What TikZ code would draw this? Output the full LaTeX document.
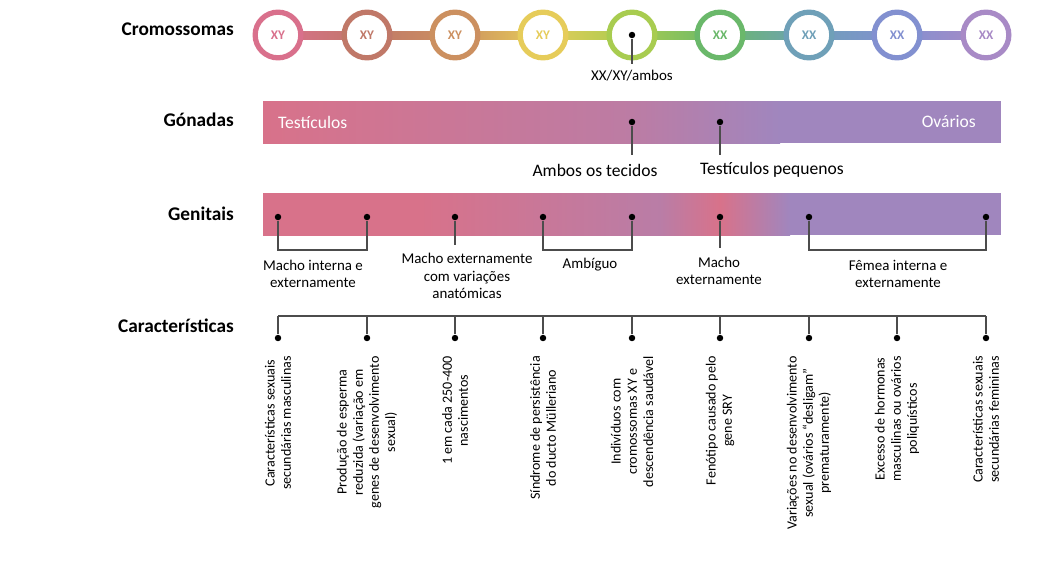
\documentclass[tikz,border=0pt]{standalone}
\usepackage{fontspec}
\setmainfont{Carlito}
\usetikzlibrary{positioning}
\definecolor{cA}{HTML}{D9708C}
\definecolor{cB}{HTML}{C07868}
\definecolor{cC}{HTML}{CC9060}
\definecolor{cD}{HTML}{E6CC5A}
\definecolor{cE}{HTML}{A8CC50}
\definecolor{cF}{HTML}{6AB86A}
\definecolor{cG}{HTML}{6FA0B8}
\definecolor{cH}{HTML}{8290D0}
\definecolor{cI}{HTML}{A88AC6}
\definecolor{pinkbar}{HTML}{D8728A}
\definecolor{purplebar}{HTML}{A086BE}
\begin{document}
\begin{tikzpicture}[x=0.02cm,y=-0.02cm,
  heading/.style={font=\fontsize{11}{13}\selectfont\bfseries,anchor=east},
  label/.style={font=\fontsize{8.5}{10}\selectfont,align=center},
  feature/.style={font=\fontsize{8}{9.2}\selectfont,align=center,rotate=90,anchor=east},
  dot/.style={circle,fill=black,inner sep=1.3pt},
  link/.style={draw=black!70,line width=0.7pt},
  chrom/.style={circle,draw=#1,fill=white,line width=3pt,minimum size=24\pgflinewidth,
    text=#1,font=\fontsize{7.5}{8}\selectfont\bfseries,inner sep=0pt}
]
\useasboundingbox (0,0) rectangle (1038,566);

% headings
\node[heading] (hchrom) at (240,29)  {Cromossomas};
\node[heading] (hgon)   at (240,120) {Gónadas};
\node[heading] (hgen)   at (240,214) {Genitais};
\node[heading] (hcar)   at (240,326) {Características};

% chromosome line
\foreach \a/\b/\ca/\cb in {278/367/cA/cB,367/455/cB/cC,455/543/cC/cD,543/632/cD/cE,
  632/720/cE/cF,720/809/cF/cG,809/897/cG/cH,897/986/cH/cI}
  \shade[left color=\ca,right color=\cb] (\a,31) rectangle (\b,39);
\foreach \n/\x/\c/\t in {c1/278/cA/XY,c2/367/cB/XY,c3/455/cC/XY,c4/543/cD/XY,c5/632/cE/{},
  c6/720/cF/XX,c7/809/cG/XX,c8/897/cH/XX,c9/986/cI/XX}
  \node[chrom=\c,minimum size=26] (\n) at (\x,35) {\t};
\node[dot] (cmid) at (632,35) {};
\node[label] (lchrom) at (632,76) {XX/XY/ambos};
\draw[link] (cmid) -- (lchrom.north);

% gonads bar
\shade[left color=pinkbar,right color=pinkbar!50!purplebar] (263,101) rectangle (632,143);
\shade[left color=pinkbar!50!purplebar,right color=purplebar] (632,101) rectangle (780,143);
\fill[purplebar] (780,101) rectangle (1001,143);
\node[label,text=white,anchor=west,font=\fontsize{10}{12}\selectfont] (testic) at (272,122) {Testículos};
\node[label,text=white,anchor=east,font=\fontsize{10}{12}\selectfont] (ovar) at (982,122) {Ovários};
\node[dot] (g1) at (632,122) {};
\node[dot] (g2) at (720,122) {};
\node[label,font=\fontsize{10}{12}\selectfont] (lamb) at (595,170) {Ambos os tecidos};
\node[label,font=\fontsize{10}{12}\selectfont] (lpeq) at (772,170) {Testículos pequenos};
\draw[link] (g1) -- (632,155);
\draw[link] (g2) -- (720,155);

% genitals bar
\shade[left color=pinkbar,right color=pinkbar] (263,193) rectangle (420,235);
\shade[left color=pinkbar,right color=pinkbar!45!purplebar] (420,193) rectangle (660,235);
\shade[left color=pinkbar!45!purplebar,right color=pinkbar] (660,193) rectangle (720,235);
\shade[left color=pinkbar,right color=purplebar] (720,193) rectangle (790,235);
\fill[purplebar] (790,193) rectangle (1001,235);
\foreach \n/\x in {d1/278,d2/367,d3/455,d4/543,d5/632,d6/720,d7/809,d9/986}
  \node[dot] (\n) at (\x,217) {};
\draw[link] (d1) -- (278,250) -- (367,250) -- (d2);
\draw[link] (d4) -- (543,250) -- (632,250) -- (d5);
\draw[link] (d7) -- (809,250) -- (986,250) -- (d9);
\draw[link] (d3) -- (455,245);
\draw[link] (d6) -- (720,248);
\node[label] (lg1) at (313,274) {Macho interna e\\externamente};
\node[label] (lg2) at (467,276) {Macho externamente\\com variações\\anatómicas};
\node[label] (lg3) at (590,265) {Ambíguo};
\node[label] (lg4) at (719,271) {Macho\\externamente};
\node[label] (lg5) at (898,274) {Fêmea interna e\\externamente};

% characteristics
\draw[link] (278,316) -- (986,316);
\foreach \n/\x/\t in {
  f1/278/{Características sexuais\\secundárias masculinas},
  f2/367/{Produção de esperma\\reduzida (variação em\\genes de desenvolvimento\\sexual)},
  f3/455/{1 em cada 250-400\\nascimentos},
  f4/543/{Síndrome de persistência\\do ducto Mülleriano},
  f5/632/{Indivíduos com\\cromossomas XY e\\descendência saudável},
  f6/720/{Fenótipo causado pelo\\gene SRY},
  f7/809/{Variações no desenvolvimento\\sexual (ovários “desligam”\\prematuramente)},
  f8/897/{Excesso de hormonas\\masculinas ou ovários\\poliquísticos},
  f9/986/{Características sexuais\\secundárias femininas}} {
  \node[dot] (\n) at (\x,338) {};
  \draw[link] (\x,316) -- (\n);
  \node[feature] (t\n) at (\x,350) {\t};
}
\end{tikzpicture}
\end{document}
